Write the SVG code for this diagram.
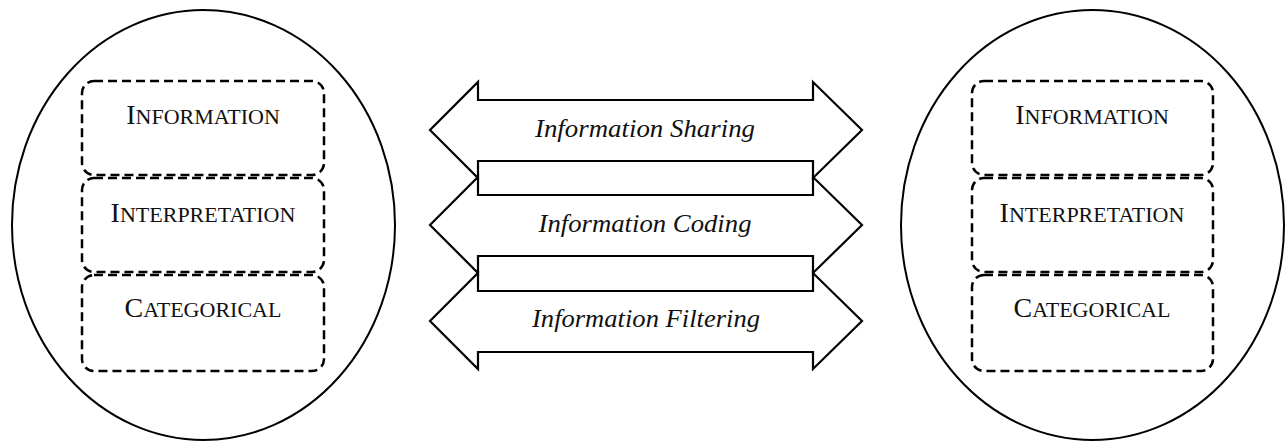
<svg xmlns="http://www.w3.org/2000/svg" width="1288" height="441" viewBox="0 0 1288 441">
<style>
.ell{fill:#fff;stroke:#000;stroke-width:2}
.box{fill:none;stroke:#000;stroke-width:2.5;stroke-dasharray:9,5}
.lbl{font-family:"Liberation Serif",serif;font-size:22px;fill:#111;text-anchor:middle}
.cap{font-size:28px}
.arr{fill:#fff;stroke:#000;stroke-width:2.2;stroke-linejoin:miter}
.al{font-family:"Liberation Serif",serif;font-style:italic;font-size:26px;fill:#111;text-anchor:middle}
</style>
<rect width="1288" height="441" fill="#fff"/>
<g id="left-group">
<ellipse class="ell" cx="203.5" cy="225" rx="191.5" ry="215"/>
<g id="left-information"><rect class="box" x="82" y="81" width="242" height="94" rx="12"/><text class="lbl" x="203" y="124"><tspan class="cap">I</tspan>NFORMATION</text></g>
<g id="left-interpretation"><rect class="box" x="82" y="178" width="242" height="94" rx="12"/><text class="lbl" x="203" y="222"><tspan class="cap">I</tspan>NTERPRETATION</text></g>
<g id="left-categorical"><rect class="box" x="82" y="275" width="242" height="96" rx="12"/><text class="lbl" x="203" y="317"><tspan class="cap">C</tspan>ATEGORICAL</text></g>
</g>
<g id="right-group">
<ellipse class="ell" cx="1092.5" cy="225" rx="191.5" ry="215"/>
<g id="right-information"><rect class="box" x="972" y="81" width="241" height="94" rx="12"/><text class="lbl" x="1092" y="124"><tspan class="cap">I</tspan>NFORMATION</text></g>
<g id="right-interpretation"><rect class="box" x="972" y="178" width="241" height="94" rx="12"/><text class="lbl" x="1092" y="222"><tspan class="cap">I</tspan>NTERPRETATION</text></g>
<g id="right-categorical"><rect class="box" x="972" y="275" width="241" height="96" rx="12"/><text class="lbl" x="1092" y="317"><tspan class="cap">C</tspan>ATEGORICAL</text></g>
</g>
<g id="connectors">
<g id="arrow-sharing">
<polygon class="arr" points="430,130 478,82 478,100 813,100 813,82 862,130 813,178 813,161 478,161 478,178"/>
<text class="al" x="645" y="137" textLength="220" lengthAdjust="spacingAndGlyphs">Information Sharing</text>
</g>
<g id="arrow-coding">
<polygon class="arr" points="430,225 478,177 478,195 813,195 813,177 862,225 813,273 813,256 478,256 478,273"/>
<text class="al" x="645" y="232" textLength="213" lengthAdjust="spacingAndGlyphs">Information Coding</text>
</g>
<g id="arrow-filtering">
<polygon class="arr" points="430,321 478,273 478,291 813,291 813,273 862,321 813,369 813,352 478,352 478,369"/>
<text class="al" x="646" y="327" textLength="228" lengthAdjust="spacingAndGlyphs">Information Filtering</text>
</g>
</g>
</svg>
